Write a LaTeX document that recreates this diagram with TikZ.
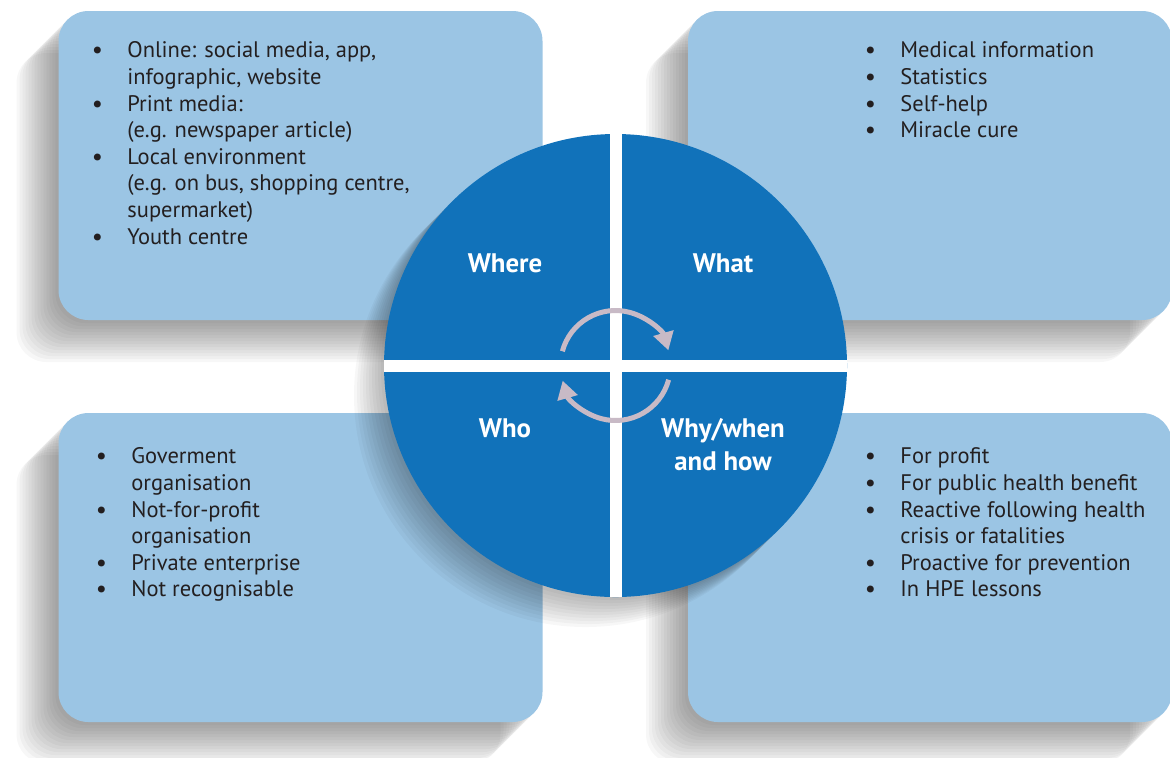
\documentclass[tikz,border=0pt]{standalone}
\usepackage{fontspec}
\setmainfont{PT Sans}
\usetikzlibrary{arrows.meta,backgrounds}
\definecolor{boxblue}{HTML}{9BC5E4}
\definecolor{hubblue}{HTML}{1172BA}
\definecolor{arrowc}{HTML}{C8BAC6}
\definecolor{inkc}{HTML}{231F20}
\newcommand\bdot{{\bfseries\textbullet}}
\newcommand\bitem[1]{\makebox[17.5pt][l]{\bdot}#1}
\newcommand\bcont[1]{\hspace*{17.5pt}#1}
\tikzset{
 panel/.style={rounded corners=15pt, fill=boxblue, inner sep=0pt, outer sep=0pt, minimum width=242pt, minimum height=154.5pt},
 listtext/.style={anchor=north west, inner sep=0pt, align=left, text=inkc, font=\fontsize{11.25}{13.3}\selectfont},
 hublabel/.style={text=white, font=\bfseries\fontsize{13.4}{16.5}\selectfont, align=center, inner sep=0pt},
 hubdisc/.style={circle, fill=hubblue, inner sep=0pt, outer sep=0pt, minimum size=231.5pt},
 cycle/.style={draw=arrowc, line width=2.5pt, -{Triangle[length=9pt,width=10pt]}},
 shade/.style={fill=black, opacity=0.03}
}
\begin{document}
\begin{tikzpicture}[x=0.5pt,y=-0.5pt]
\useasboundingbox (0,0) rectangle (1170,757);
\node[panel] (boxtl) at (300.5,165.5) {};
\node[panel] (boxtr) at (930,165.5) {};
\node[panel] (boxbl) at (300.5,567.5) {};
\node[panel] (boxbr) at (930,567.5) {};
\begin{scope}[on background layer]
\foreach \b in {tl,tr,bl,br}{
  \foreach \k in {3,6,...,42}{
    \fill[shade, rounded corners=15pt] ([shift={(-\k,\k)}]box\b.south west) rectangle ([shift={(-\k,\k)}]box\b.north east);
  }
}
\end{scope}
\coordinate (c) at (615.5,365.5);
\foreach \k in {3,6,...,30}{
  \fill[shade] ([shift={(-\k,\k)}]c) circle[radius=115.75pt];
}
\node[hubdisc] (hub) at (c) {};
\draw[white, line width=6pt] (hub.north) -- (hub.south) (hub.west) -- (hub.east);
\node[hublabel] (where) at (505,263) {Where};
\node[hublabel] (what) at (723,263) {What};
\node[hublabel] (who) at (505,428) {Who};
\node[hublabel] (why) at (723,445) {Why/when\\and how};
\draw[cycle] ([shift={(165:27.5pt)}]hub.center) arc[start angle=165, end angle=16, radius=27.5pt];
\draw[cycle] ([shift={(-15:27.5pt)}]hub.center) arc[start angle=-15, end angle=-164, radius=27.5pt];
\node[listtext] (listtl) at (92,41.5) {\bitem{Online: social media, app,}\\
\bcont{infographic, website}\\
\bitem{Print media:}\\
\bcont{(e.g. newspaper article)}\\
\bitem{Local environment}\\
\bcont{(e.g. on bus, shopping centre,}\\
\bcont{supermarket)}\\
\bitem{Youth centre}};
\node[listtext] (listtr) at (865,41.5) {\bitem{Medical information}\\
\bitem{Statistics}\\
\bitem{Self-help}\\
\bitem{Miracle cure}};
\node[listtext] (listbl) at (96,447.5) {\bitem{Goverment}\\
\bcont{organisation}\\
\bitem{Not-for-profit}\\
\bcont{organisation}\\
\bitem{Private enterprise}\\
\bitem{Not recognisable}};
\node[listtext] (listbr) at (865,447.5) {\bitem{For profit}\\
\bitem{For public health benefit}\\
\bitem{Reactive following health}\\
\bcont{crisis or fatalities}\\
\bitem{Proactive for prevention}\\
\bitem{In HPE lessons}};
\end{tikzpicture}
\end{document}
